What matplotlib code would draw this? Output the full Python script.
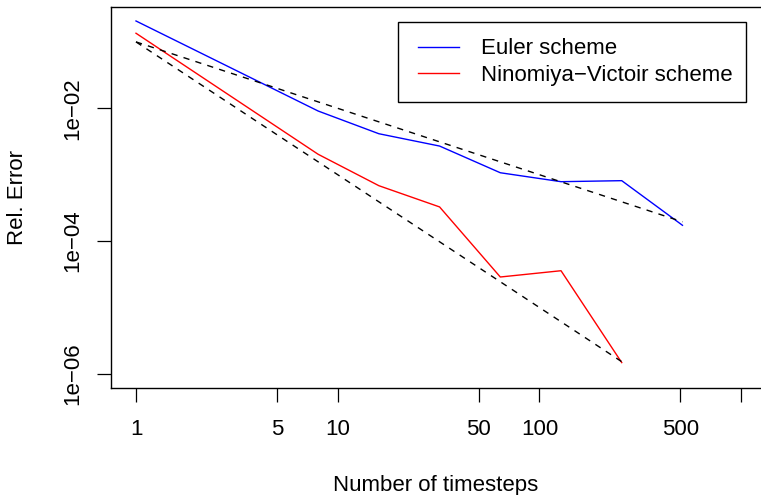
import matplotlib
matplotlib.use("Agg")
import matplotlib.pyplot as plt
from matplotlib.ticker import FixedLocator, FixedFormatter, NullLocator
from matplotlib.patches import Rectangle
import numpy as np

plt.rcParams['font.family'] = ['Liberation Sans', 'DejaVu Sans']

# Data
steps = [1, 8, 16, 32, 64, 128, 256, 512]
euler_err = [0.2066, 0.0091, 0.00414, 0.00270, 0.00107, 7.85e-4, 8.13e-4, 1.73e-4]
nv_steps = [1, 8, 16, 32, 64, 128, 256]
nv_err = [0.135, 0.00203, 6.83e-4, 3.27e-4, 2.88e-5, 3.58e-5, 1.48e-6]

# reference slopes: 0.1 * n^-1 and 0.1 * n^-2
ref1_n = np.array([1, 512])
ref2_n = np.array([1, 256])
ref_c = 0.1

xticks = [1, 5, 10, 50, 100, 500, 1000]
xticklabels = ['1', '5', '10', '50', '100', '500', '']
yticks = [1e-6, 1e-4, 1e-2]
yticklabels = ['1e\u221206', '1e\u221204', '1e\u221202']

FS = 16
W, H = 761, 495
fig = plt.figure(figsize=(W / 100, H / 100), dpi=100)
left, right, top, bottom = 111, 761, 7, 388
ax = fig.add_axes([left / W, 1 - bottom / H, (right - left) / W, (bottom - top) / H])

ax.set_xscale('log')
ax.set_yscale('log')

l1, = ax.plot(steps, euler_err, color='blue', lw=1.0, label='Euler scheme')
l2, = ax.plot(nv_steps, nv_err, color='red', lw=1.0, label='Ninomiya\u2212Victoir scheme')
ax.plot(ref1_n, ref_c / ref1_n, color='black', lw=1.0, dashes=(4.5, 4.5))
ax.plot(ref2_n, ref_c / ref2_n ** 2, color='black', lw=1.0, dashes=(4.5, 4.5))

# axis limits mapped from pixel geometry of the reference
px_per_dec_x = 201.7
x1_px = 136
ax.set_xlim(10 ** ((left - x1_px) / px_per_dec_x), 10 ** ((right - x1_px) / px_per_dec_x))
px_per_dec_y = 66.4
y2_px = 108.3
ax.set_ylim(10 ** (-2 - (bottom - y2_px) / px_per_dec_y), 10 ** (-2 - (top - y2_px) / px_per_dec_y))

ax.xaxis.set_major_locator(FixedLocator(xticks))
ax.xaxis.set_major_formatter(FixedFormatter(xticklabels))
ax.xaxis.set_minor_locator(NullLocator())
ax.yaxis.set_major_locator(FixedLocator(yticks))
ax.yaxis.set_major_formatter(FixedFormatter(yticklabels))
ax.yaxis.set_minor_locator(NullLocator())

ax.tick_params(axis='x', length=10, width=0.9, labelsize=FS, pad=12)
ax.tick_params(axis='y', length=10, width=0.9, labelsize=FS, pad=10)
for lab in ax.get_yticklabels():
    lab.set_rotation(90)
    lab.set_va('center')

for s in ['left', 'bottom', 'top']:
    ax.spines[s].set_linewidth(1.0)
ax.spines['right'].set_visible(False)

ax.set_xlabel('Number of timesteps', fontsize=FS, labelpad=25.5)
ax.set_ylabel('Rel. Error', fontsize=FS, labelpad=24.5)

# legend frame (R style box) and entries
fig.add_artist(Rectangle((398 / W, 1 - 102 / H), (746 - 398) / W, 80 / H,
                         transform=fig.transFigure, facecolor='white', edgecolor='black',
                         linewidth=1.0, zorder=5))
leg = fig.legend(handles=[l1, l2], loc='center left', bbox_to_anchor=(418 / W, 1 - 62 / H),
                 bbox_transform=fig.transFigure,
                 borderaxespad=0, fontsize=FS, handlelength=1.85, handletextpad=1.0,
                 borderpad=0, labelspacing=0.24, frameon=False)
leg.set_zorder(6)

fig.savefig('out.png', dpi=100)
